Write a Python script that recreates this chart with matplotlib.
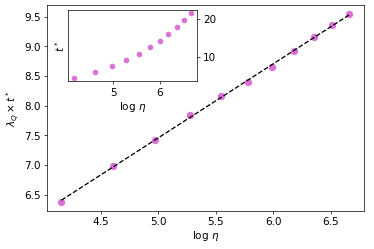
import numpy as np
import matplotlib
matplotlib.use('Agg')
import matplotlib.pyplot as plt

# system sizes n = 8..28, eta = n^2
log_eta = [4.159, 4.605, 4.970, 5.278, 5.545, 5.781, 5.991, 6.182, 6.356, 6.516, 6.664]
lam_t = [6.385, 6.976, 7.416, 7.85, 8.159, 8.40, 8.66, 8.926, 9.15, 9.353, 9.539]
t_star = [4.37, 5.87, 7.45, 9.1, 10.87, 12.53, 14.29, 16.13, 17.9, 19.74, 21.58]

plt.rcParams['font.size'] = 12

fig = plt.figure(figsize=(6, 4), dpi=62.34)
ax = fig.add_axes([0.1257, 0.1526, 0.847, 0.826])
ax.scatter(log_eta, lam_t, s=55, color='orchid', zorder=2)
fit = np.polyfit(log_eta, lam_t, 1)
ax.plot(log_eta, np.polyval(fit, log_eta), 'k--', lw=1.5, zorder=3)
ax.set_xlabel('log $\\eta$', labelpad=2)
ax.set_ylabel('$\\lambda_Q \\times t^*$', labelpad=4)
ax.set_xticks([4.5, 5.0, 5.5, 6.0, 6.5])
ax.set_yticks([6.5, 7.0, 7.5, 8.0, 8.5, 9.0, 9.5])

ins = fig.add_axes([0.1826, 0.672, 0.3434, 0.288])
ins.scatter(log_eta, t_star, s=30, color='orchid')
ins.yaxis.tick_right()
ins.set_ylabel('$t^*$', labelpad=2)
ins.set_xlabel('log $\\eta$', labelpad=2)
ins.set_xticks([5, 6])
ins.set_yticks([10, 20])

fig.savefig('out.png', dpi=62.34)
